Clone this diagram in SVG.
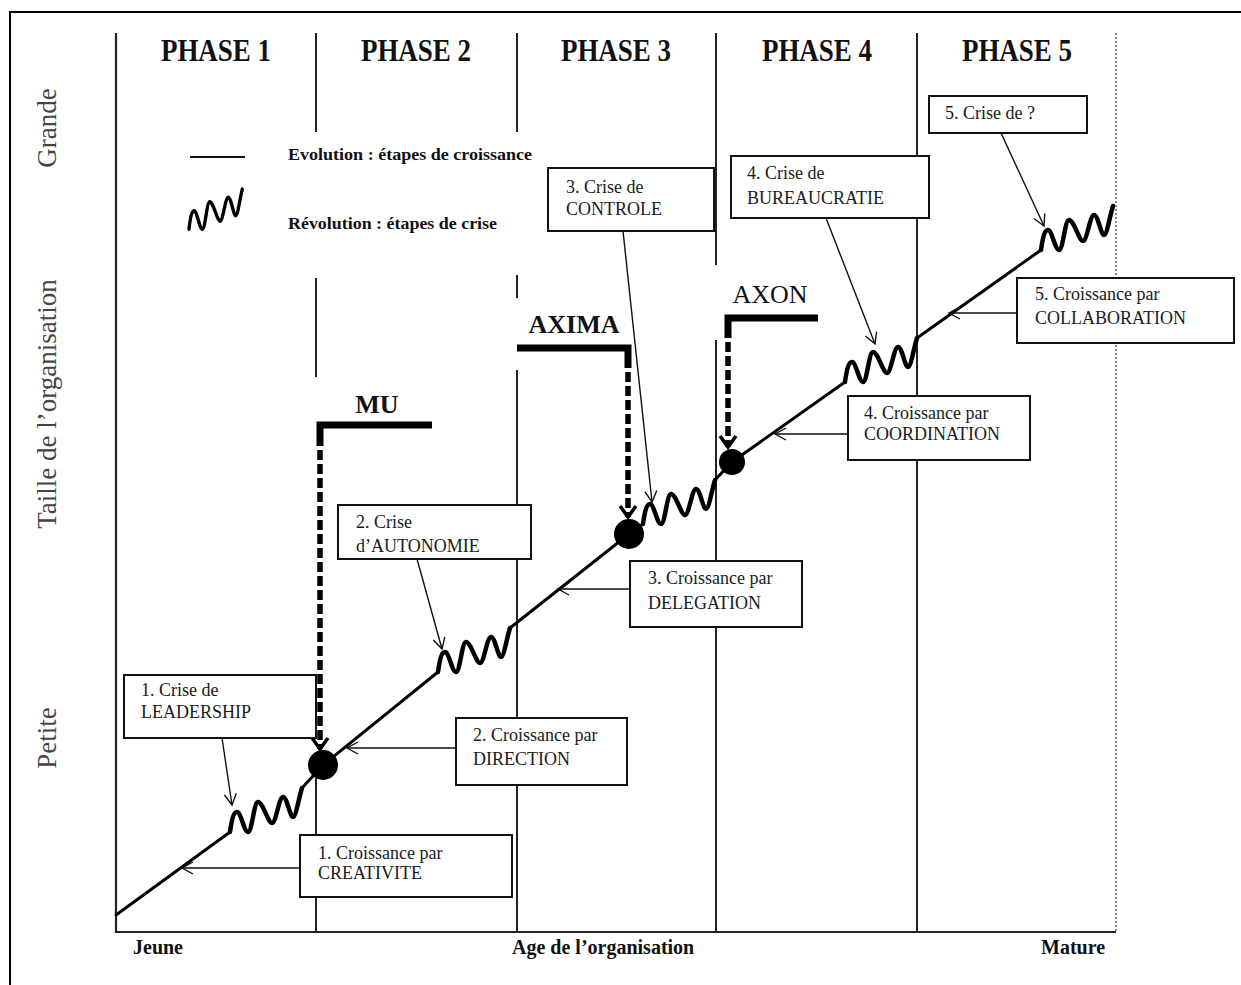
<svg xmlns="http://www.w3.org/2000/svg" width="1241" height="985" viewBox="0 0 1241 985">
<style>
.frame{stroke:#000;stroke-width:2;fill:none}
.axis{stroke:#222;stroke-width:2.2;fill:none}
.div{stroke:#222;stroke-width:2;fill:none}
.dotted{stroke:#666;stroke-width:1.5;stroke-dasharray:2 2;fill:none}
.box rect{fill:#fff;stroke:#111;stroke-width:2}
.box text{font-family:"Liberation Serif","Times New Roman",serif;font-size:18px;fill:#1a1a1a}
.phase{font-family:"Liberation Serif","Times New Roman",serif;font-weight:bold;font-size:27px;fill:#111}
.ylab{font-family:"Liberation Serif","Times New Roman",serif;font-size:27px;fill:#444}
.xlab{font-family:"Liberation Serif","Times New Roman",serif;font-weight:bold;font-size:20px;fill:#111}
.leg{font-family:"Liberation Serif","Times New Roman",serif;font-weight:bold;font-size:16px;fill:#111}
.grow{stroke:#000;stroke-width:3;fill:none;stroke-linecap:round}
.thin{stroke:#111;stroke-width:1.4;fill:none;marker-end:url(#open)}
.bar{stroke:#000;stroke-width:7;fill:none}
.dash{stroke:#000;stroke-width:5.5;fill:none;stroke-dasharray:10 4;marker-end:url(#vbig)}
.co{font-family:"Liberation Serif","Times New Roman",serif;font-size:26px;fill:#111}
</style>
<defs>
<marker id="open" markerUnits="userSpaceOnUse" markerWidth="16" markerHeight="16" viewBox="-14 -8 16 16" refX="0" refY="0" orient="auto">
<path d="M-11,-6 L0,0 L-11,6" fill="none" stroke="#111" stroke-width="1.4"/>
</marker>
<marker id="vbig" markerUnits="userSpaceOnUse" markerWidth="20" markerHeight="22" viewBox="-14 -11 18 22" refX="0" refY="0" orient="auto">
<path d="M-11,-8 L0,0 L-11,8" fill="none" stroke="#000" stroke-width="3.5"/>
</marker>
<path id="sq" d="M0,0 C2,-14 4,-20 7,-20 C11,-20 14,0 18,0 C22,0 24,-30 28,-30 C33,-30 38,-9 42,-9 C46,-9 49,-35 53,-35 C57,-35 60,-15 63,-15 C66,-15 69,-35 72,-44" fill="none" stroke="#000" stroke-width="4.5" stroke-linecap="round" stroke-linejoin="round"/>
</defs>

<g id="frame">
<path class="frame" d="M10,985 V12 H1241"/>
</g>

<g id="axes">
<path class="axis" d="M116,33 V932 H1116"/>
<path class="dotted" d="M1116,33 V932"/>
<path class="div" d="M316,33 V132 M316,278 V377 M316,778 V932"/>
<path class="div" d="M517,33 V132 M517,275 V298 M517,370 V932"/>
<path class="div" d="M716,33 V265 M716,340 V932"/>
<path class="div" d="M917,33 V932"/>
</g>

<g id="phase-labels">
<text class="phase" text-anchor="middle" transform="translate(216,61) scale(1,1.15)">PHASE 1</text>
<text class="phase" text-anchor="middle" transform="translate(416,61) scale(1,1.15)">PHASE 2</text>
<text class="phase" text-anchor="middle" transform="translate(616,61) scale(1,1.15)">PHASE 3</text>
<text class="phase" text-anchor="middle" transform="translate(817,61) scale(1,1.15)">PHASE 4</text>
<text class="phase" text-anchor="middle" transform="translate(1017,61) scale(1,1.15)">PHASE 5</text>
</g>

<g id="axis-labels">
<text class="ylab" text-anchor="middle" transform="translate(56,128) rotate(-90)">Grande</text>
<text class="ylab" text-anchor="middle" transform="translate(56,404) rotate(-90)">Taille de l’organisation</text>
<text class="ylab" text-anchor="middle" transform="translate(56,738) rotate(-90)">Petite</text>
<text class="xlab" x="133" y="954">Jeune</text>
<text class="xlab" x="512" y="954">Age de l’organisation</text>
<text class="xlab" x="1041" y="954">Mature</text>
</g>

<g id="legend">
<path d="M190,157 H245" stroke="#111" stroke-width="2" fill="none"/>
<use href="#sq" transform="translate(189,229) scale(0.74,0.9)"/>
<text class="leg" x="288" y="160" textLength="244" lengthAdjust="spacingAndGlyphs">Evolution : étapes de croissance</text>
<text class="leg" x="288" y="229" textLength="209" lengthAdjust="spacingAndGlyphs">Révolution : étapes de crise</text>
</g>

<g id="growth-curve">
<path class="grow" d="M116,915 L230,832"/>
<use href="#sq" transform="translate(230,832)"/>
<path class="grow" d="M302,788 L323,765 L438,672"/>
<use href="#sq" transform="translate(438,672)"/>
<path class="grow" d="M510,628 L629,534 L643,524"/>
<use href="#sq" transform="translate(643,524)"/>
<path class="grow" d="M715,480 L732,462 L845,382"/>
<use href="#sq" transform="translate(845,382)"/>
<path class="grow" d="M917,338 L1041,250"/>
<use href="#sq" transform="translate(1041,250)"/>
<circle cx="323" cy="765" r="15" fill="#000"/>
<circle cx="629" cy="534" r="15" fill="#000"/>
<circle cx="732" cy="462" r="13" fill="#000"/>
</g>

<g id="node-crise1" class="box">
<rect x="124" y="675" width="192" height="63"/>
<text x="141" y="696">1. Crise de</text>
<text x="141" y="718">LEADERSHIP</text>
</g>
<g id="node-croissance1" class="box">
<rect x="300" y="835" width="212" height="62"/>
<text x="318" y="859">1. Croissance par</text>
<text x="318" y="879">CREATIVITE</text>
</g>
<g id="node-croissance2" class="box">
<rect x="456" y="718" width="171" height="67"/>
<text x="473" y="741">2. Croissance par</text>
<text x="473" y="765">DIRECTION</text>
</g>
<g id="node-crise2" class="box">
<rect x="338" y="505" width="193" height="54"/>
<text x="356" y="528">2. Crise</text>
<text x="356" y="552">d’AUTONOMIE</text>
</g>
<g id="node-croissance3" class="box">
<rect x="630" y="561" width="172" height="66"/>
<text x="648" y="584">3. Croissance par</text>
<text x="648" y="609">DELEGATION</text>
</g>
<g id="node-crise3" class="box">
<rect x="548" y="168" width="166" height="63"/>
<text x="566" y="193">3. Crise de</text>
<text x="566" y="215">CONTROLE</text>
</g>
<g id="node-croissance4" class="box">
<rect x="848" y="396" width="182" height="64"/>
<text x="864" y="419">4. Croissance par</text>
<text x="864" y="440">COORDINATION</text>
</g>
<g id="node-crise4" class="box">
<rect x="731" y="156" width="198" height="62"/>
<text x="747" y="179">4. Crise de</text>
<text x="747" y="204">BUREAUCRATIE</text>
</g>
<g id="node-croissance5" class="box">
<rect x="1017" y="278" width="217" height="65"/>
<text x="1035" y="300">5. Croissance par</text>
<text x="1035" y="324">COLLABORATION</text>
</g>
<g id="node-crise5" class="box">
<rect x="929" y="96" width="158" height="37"/>
<text x="945" y="119">5. Crise de ?</text>
</g>

<g id="node-mu">
<text class="co" font-weight="bold" x="377" y="413" text-anchor="middle">MU</text>
</g>
<g id="node-axima">
<text class="co" font-weight="bold" x="574" y="333" text-anchor="middle">AXIMA</text>
</g>
<g id="node-axon">
<text class="co" x="770" y="303" text-anchor="middle">AXON</text>
</g>

<g id="connectors">
<path class="thin" d="M300,868 L182,868"/>
<path class="thin" d="M456,748 L347,748"/>
<path class="thin" d="M630,589 L558,589"/>
<path class="thin" d="M848,434 L775,434"/>
<path class="thin" d="M1017,313 L949,313"/>
<path class="thin" d="M222,738 L232,805"/>
<path class="thin" d="M417,559 L442,649"/>
<path class="thin" d="M623,231 L652,502"/>
<path class="thin" d="M826,218 L875,344"/>
<path class="thin" d="M1001,133 L1044,226"/>
<path class="bar" d="M432,425 H320 V446"/>
<path class="dash" d="M320,450 L320,749"/>
<path class="bar" d="M517,348 H628 V368"/>
<path class="dash" d="M628,372 L628,517"/>
<path class="bar" d="M818,318 H728 V338"/>
<path class="dash" d="M728,342 L728,447"/>
</g>
</svg>
